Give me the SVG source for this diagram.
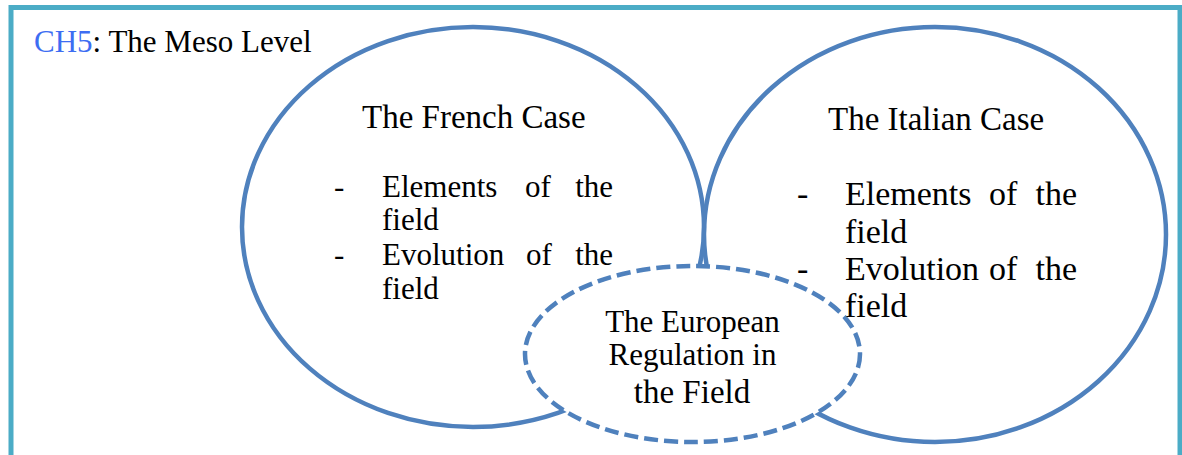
<svg xmlns="http://www.w3.org/2000/svg" width="1182" height="455" viewBox="0 0 1182 455">
<style>
text{font-family:"Liberation Serif","Times New Roman",serif;fill:#000}
.shape{fill:none;stroke:#4f81bd;stroke-width:4.5}
.dashed{fill:#fff;stroke:#4f81bd;stroke-width:4.5;stroke-dasharray:14 6}
.h{font-size:33px}
.b1{font-size:31px}
.b2{font-size:34px}
.c{text-anchor:middle}
.e{text-anchor:end}
</style>
<rect id="frame" x="11" y="7.5" width="1169" height="470" fill="#fff" stroke="#4bacc6" stroke-width="5"/>
<g id="title">
<text x="34" y="52" style="font-size:31px"><tspan style="fill:#3d6df2">CH5</tspan>: The Meso Level</text>
</g>
<g id="french-case">
<ellipse class="shape" cx="473" cy="227" rx="231" ry="200"/>
<text class="h" x="362" y="128">The French Case</text>
<text class="b1" x="334" y="197">-</text>
<text class="b1" x="382" y="197">Elements</text>
<text class="b1" x="525" y="197">of</text>
<text class="b1 e" x="613" y="197">the</text>
<text class="b1" x="382" y="230">field</text>
<text class="b1" x="334" y="265">-</text>
<text class="b1" x="382" y="265">Evolution</text>
<text class="b1" x="526" y="265">of</text>
<text class="b1 e" x="613" y="265">the</text>
<text class="b1" x="382" y="299">field</text>
</g>
<g id="italian-case">
<ellipse class="shape" cx="935" cy="234.5" rx="231" ry="207.5"/>
</g>
<g id="european-regulation">
<ellipse class="dashed" cx="692.5" cy="354" rx="167.5" ry="88"/>
<text class="b1 c" x="692.5" y="332">The European</text>
<text class="b1 c" x="692.5" y="365">Regulation in</text>
<text class="h c" x="692" y="403">the Field</text>
</g>
<g id="italian-case-text">
<text class="h" x="828" y="130">The Italian Case</text>
<text class="b2" x="797" y="205">-</text>
<text class="b2" x="845" y="205">Elements</text>
<text class="b2" x="989" y="205">of</text>
<text class="b2 e" x="1077" y="205">the</text>
<text class="b2" x="845" y="243">field</text>
<text class="b2" x="797" y="280">-</text>
<text class="b2" x="845" y="280">Evolution</text>
<text class="b2" x="989" y="280">of</text>
<text class="b2 e" x="1077" y="280">the</text>
<text class="b2" x="845" y="317">field</text>
</g>
<g id="connectors"/>
</svg>
